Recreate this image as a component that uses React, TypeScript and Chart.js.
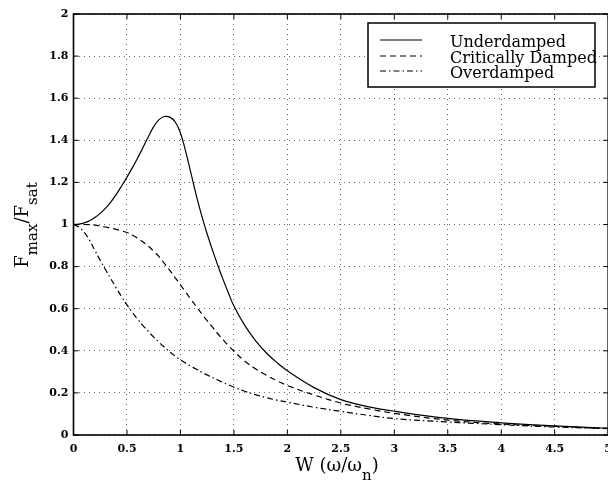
import React, { useEffect, useRef } from "react";
import { Chart, registerables } from "chart.js";

Chart.register(...registerables);

const W = [0, 0.05, 0.1, 0.15, 0.2, 0.25, 0.3, 0.35, 0.4, 0.45, 0.5, 0.55, 0.6, 0.65, 0.7, 0.75, 0.8, 0.85, 0.9, 0.95, 1.0, 1.05, 1.1, 1.15, 1.2, 1.25, 1.3, 1.35, 1.4, 1.45, 1.5, 1.6, 1.7, 1.8, 1.9, 2.0, 2.25, 2.5, 2.75, 3.0, 3.5, 4.0, 4.5, 5.0];
const underdamped = [1.0, 1.002, 1.008, 1.018, 1.033, 1.053, 1.078, 1.108, 1.143, 1.183, 1.225, 1.269, 1.316, 1.366, 1.417, 1.465, 1.498, 1.513, 1.51, 1.488, 1.435, 1.345, 1.24, 1.135, 1.04, 0.955, 0.878, 0.805, 0.737, 0.673, 0.613, 0.522, 0.45, 0.392, 0.345, 0.305, 0.225, 0.168, 0.135, 0.113, 0.079, 0.058, 0.043, 0.032];
const criticallyDamped = [1.0, 1.0, 1.0, 0.999, 0.997, 0.993, 0.988, 0.983, 0.977, 0.97, 0.962, 0.95, 0.935, 0.917, 0.897, 0.873, 0.847, 0.815, 0.782, 0.748, 0.713, 0.678, 0.643, 0.609, 0.575, 0.543, 0.512, 0.481, 0.452, 0.424, 0.398, 0.352, 0.315, 0.285, 0.258, 0.235, 0.19, 0.152, 0.125, 0.103, 0.071, 0.052, 0.041, 0.03];
const overdamped = [1.0, 0.988, 0.963, 0.925, 0.877, 0.83, 0.785, 0.741, 0.698, 0.657, 0.618, 0.583, 0.55, 0.52, 0.492, 0.465, 0.44, 0.417, 0.395, 0.375, 0.357, 0.341, 0.326, 0.312, 0.298, 0.285, 0.273, 0.261, 0.249, 0.238, 0.227, 0.208, 0.192, 0.178, 0.166, 0.156, 0.132, 0.112, 0.094, 0.078, 0.062, 0.049, 0.038, 0.031];

const seriesNames = ["Underdamped", "Critically Damped", "Overdamped"];
const seriesDash = [[], [6, 4], [6, 3, 1.5, 3]];

const X_MIN = 0, X_MAX = 5, X_STEP = 0.5;
const Y_MIN = 0, Y_MAX = 2, Y_STEP = 0.2;

const fmt = (v: number) => String(Number(Number(v).toFixed(1)));

const overlay = {
  id: "overlay",
  afterDraw(chart: any) {
    const { ctx, chartArea, scales } = chart;
    const { left, right, top, bottom } = chartArea;
    const xs = scales.x, ys = scales.y;
    ctx.save();
    ctx.strokeStyle = "#000";
    ctx.setLineDash([]);
    // box
    ctx.lineWidth = 1.6;
    ctx.strokeRect(left, top, right - left, bottom - top);
    // inward ticks
    ctx.lineWidth = 1;
    ctx.beginPath();
    xs.ticks.forEach((t: any) => {
      const px = xs.getPixelForValue(t.value);
      ctx.moveTo(px, bottom); ctx.lineTo(px, bottom - 5);
      ctx.moveTo(px, top); ctx.lineTo(px, top + 5);
    });
    ys.ticks.forEach((t: any) => {
      const py = ys.getPixelForValue(t.value);
      ctx.moveTo(left, py); ctx.lineTo(left + 5, py);
      ctx.moveTo(right, py); ctx.lineTo(right - 5, py);
    });
    ctx.stroke();

    // legend
    const lx = 368, ly = 23, lw = 227, lh = 64;
    ctx.fillStyle = "#fff";
    ctx.fillRect(lx, ly, lw, lh);
    ctx.lineWidth = 1.5;
    ctx.strokeRect(lx, ly, lw, lh);
    const rowsLine = [40, 56, 71];
    const rowsText = [46.5, 62.5, 78];
    ctx.font = '16px "DejaVu Serif"';
    ctx.textBaseline = "alphabetic";
    ctx.textAlign = "left";
    seriesNames.forEach((name, i) => {
      ctx.lineWidth = 1.1;
      ctx.setLineDash(seriesDash[i]);
      ctx.beginPath();
      ctx.moveTo(380, rowsLine[i]);
      ctx.lineTo(422, rowsLine[i]);
      ctx.stroke();
      ctx.setLineDash([]);
      ctx.fillStyle = "#000";
      ctx.fillText(name, 450, rowsText[i]);
    });

    // axis titles
    const mainFont = '18px "DejaVu Serif"';
    const subFont = '15px "DejaVu Serif"';
    const drawParts = (parts: [string, boolean][], cx: number, baseY: number) => {
      let total = 0;
      const widths = parts.map(([s, sub]) => {
        ctx.font = sub ? subFont : mainFont;
        const w = ctx.measureText(s).width;
        total += w;
        return w;
      });
      let x = cx - total / 2;
      parts.forEach(([s, sub], i) => {
        ctx.font = sub ? subFont : mainFont;
        ctx.fillText(s, x, baseY + (sub ? 8.5 : 0));
        x += widths[i];
      });
    };
    ctx.fillStyle = "#000";
    ctx.textAlign = "left";
    drawParts([["W (ω/ω", false], ["n", true], [")", false]], 337, 471);
    ctx.save();
    ctx.translate(28, 225);
    ctx.rotate(-Math.PI / 2);
    drawParts([["F", false], ["max", true], ["/F", false], ["sat", true]], 0, 0);
    ctx.restore();
    ctx.restore();
  },
};

export default function App() {
  const ref = useRef<HTMLCanvasElement | null>(null);
  useEffect(() => {
    if (!ref.current) return;
    const mk = (vals: number[]) => W.map((w, i) => ({ x: w, y: vals[i] }));
    const all = [underdamped, criticallyDamped, overdamped];
    const chart = new Chart(ref.current, {
      type: "line",
      data: {
        datasets: all.map((vals, i) => ({
          label: seriesNames[i],
          data: mk(vals),
          borderColor: "#000",
          borderWidth: 1.2,
          borderDash: seriesDash[i],
          pointRadius: 0,
          fill: false,
          tension: 0.4,
        })),
      },
      options: {
        responsive: false,
        animation: false,
        devicePixelRatio: 1,
        layout: { padding: { left: 0, top: 14, right: 9.5, bottom: 0 } },
        plugins: { legend: { display: false }, tooltip: { enabled: false } },
        scales: {
          x: {
            type: "linear",
            min: X_MIN,
            max: X_MAX,
            afterFit: (s: any) => { s.height = 48; },
            afterBuildTicks: (s: any) => {
              const t = [];
              for (let v = X_MIN; v <= X_MAX + 1e-9; v += X_STEP) t.push({ value: Number(v.toFixed(2)) });
              s.ticks = t;
            },
            ticks: {
              callback: (v: any) => fmt(v),
              color: "#000",
              font: { family: "DejaVu Serif", size: 11, weight: "bold" },
              padding: 8,
              maxRotation: 0,
              autoSkip: false,
            },
            grid: { color: "rgba(0,0,0,0.6)", lineWidth: 1, drawTicks: false },
            border: { display: false, dash: [1, 4] },
          },
          y: {
            type: "linear",
            min: Y_MIN,
            max: Y_MAX,
            afterFit: (s: any) => { s.width = 73.5; },
            afterBuildTicks: (s: any) => {
              const t = [];
              for (let v = Y_MIN; v <= Y_MAX + 1e-9; v += Y_STEP) t.push({ value: Number(v.toFixed(2)) });
              s.ticks = t;
            },
            ticks: {
              callback: (v: any) => fmt(v),
              color: "#000",
              font: { family: "DejaVu Serif", size: 11, weight: "bold" },
              padding: 5,
              autoSkip: false,
            },
            grid: { color: "rgba(0,0,0,0.6)", lineWidth: 1, drawTicks: false },
            border: { display: false, dash: [1, 4] },
          },
        },
      },
      plugins: [overlay],
    });
    return () => chart.destroy();
  }, []);
  return (
    <div style={{ position: "fixed", left: 0, top: 0, width: 608, height: 483, overflow: "hidden", background: "#fff" }}>
      <canvas ref={ref} width={620} height={483} style={{ display: "block", width: 620, height: 483 }} />
    </div>
  );
}
